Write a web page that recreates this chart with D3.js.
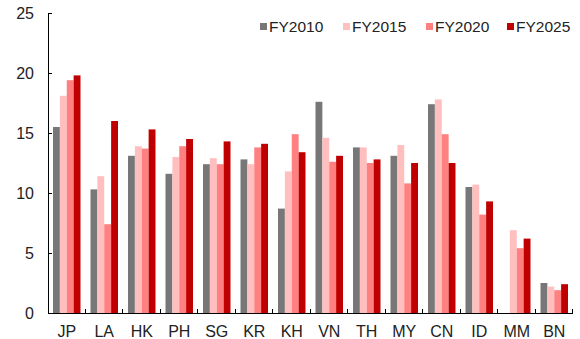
<!DOCTYPE html>
<html>
<head>
<meta charset="utf-8">
<script src="https://cdn.jsdelivr.net/npm/d3@7"></script>
<style>
  html, body { margin: 0; padding: 0; background: #fff; }
  svg { display: block; font-family: "Liberation Sans", Arial, sans-serif; }
</style>
</head>
<body>
<svg id="chart" width="580" height="339"></svg>
<script>
// Markets along the x axis
const categories = ["JP", "LA", "HK", "PH", "SG", "KR", "KH", "VN", "TH", "MY", "CN", "ID", "MM", "BN"];

// Series names (legend order)
const seriesNames = ["FY2010", "FY2015", "FY2020", "FY2025"];

// Values per series, one per market
const fy2010 = [15.5, 10.3, 13.1, 11.6, 12.4, 12.8, 8.7, 17.6, 13.8, 13.1, 17.4, 10.5, 0, 2.5];
const fy2015 = [18.1, 11.4, 13.9, 13.0, 12.9, 12.4, 11.8, 14.6, 13.8, 14.0, 17.8, 10.7, 6.9, 2.2];
const fy2020 = [19.4, 7.4, 13.7, 13.9, 12.4, 13.8, 14.9, 12.6, 12.5, 10.8, 14.9, 8.2, 5.4, 1.9];
const fy2025 = [19.8, 16.0, 15.3, 14.5, 14.3, 14.1, 13.4, 13.1, 12.8, 12.5, 12.5, 9.3, 6.2, 2.4];

// Y axis tick values
const yTicks = [0, 5, 10, 15, 20, 25];

const seriesValues = [fy2010, fy2015, fy2020, fy2025];
const colors = ["#777777", "#FFBFBF", "#FF8080", "#C00000"];

const svg = d3.select("#chart");
const plotLeft = 48, plotRight = 573, plotTop = 13, plotBottom = 313;

const x0 = d3.scaleBand().domain(categories).range([plotLeft, plotRight]).padding(0);
const groupW = x0.bandwidth();
const x1 = d3.scaleBand().domain(seriesNames).range([5, groupW - 5]).padding(0);
const y = d3.scaleLinear().domain([0, 25]).range([plotBottom, plotTop]);
const color = d3.scaleOrdinal().domain(seriesNames).range(colors);

// Bars
const groups = svg.append("g").selectAll("g")
  .data(categories)
  .join("g")
  .attr("transform", d => `translate(${x0(d)},0)`);

groups.selectAll("rect")
  .data((d, i) => seriesNames.map((s, j) => ({ s, v: seriesValues[j][i] })))
  .join("rect")
  .attr("x", d => x1(d.s))
  .attr("width", x1.bandwidth())
  .attr("y", d => y(d.v))
  .attr("height", d => y(0) - y(d.v))
  .attr("fill", d => color(d.s));

// Y axis: line, inward ticks, labels
const yAxis = svg.append("g");
yAxis.append("line")
  .attr("x1", plotLeft + 0.5).attr("x2", plotLeft + 0.5)
  .attr("y1", y(25)).attr("y2", y(0))
  .attr("stroke", "#000").attr("stroke-width", 1);
yAxis.selectAll("line.tick")
  .data(yTicks)
  .join("line")
  .attr("class", "tick")
  .attr("x1", plotLeft).attr("x2", plotLeft + 4)
  .attr("y1", d => Math.round(y(d)) + 0.5).attr("y2", d => Math.round(y(d)) + 0.5)
  .attr("stroke", "#000");
yAxis.selectAll("text")
  .data(yTicks)
  .join("text")
  .attr("x", 34)
  .attr("y", d => y(d))
  .attr("dy", "0.35em")
  .attr("text-anchor", "end")
  .attr("font-size", 16)
  .attr("fill", "#222")
  .text(d => d);

// X axis: baseline, inward ticks between groups, labels
const xAxis = svg.append("g");
xAxis.append("line")
  .attr("x1", plotLeft).attr("x2", plotRight)
  .attr("y1", plotBottom + 0.5).attr("y2", plotBottom + 0.5)
  .attr("stroke", "#000");
const boundaries = categories.map(c => x0(c) + groupW);
xAxis.selectAll("line.tick")
  .data(boundaries)
  .join("line")
  .attr("class", "tick")
  .attr("x1", d => Math.round(d) - 0.5).attr("x2", d => Math.round(d) - 0.5)
  .attr("y1", plotBottom).attr("y2", plotBottom - 4)
  .attr("stroke", "#000");
xAxis.selectAll("text")
  .data(categories)
  .join("text")
  .attr("x", d => x0(d) + groupW / 2)
  .attr("y", 337)
  .attr("text-anchor", "middle")
  .attr("font-size", 16)
  .attr("fill", "#222")
  .text(d => d);

// Legend
const legendX = [260, 343, 426, 507];
const legend = svg.append("g").selectAll("g")
  .data(seriesNames)
  .join("g")
  .attr("transform", (d, i) => `translate(${legendX[i]},27)`);
legend.append("rect")
  .attr("x", 0).attr("y", -4)
  .attr("width", 7).attr("height", 7)
  .attr("fill", d => color(d));
legend.append("text")
  .attr("x", 9)
  .attr("y", 0)
  .attr("dy", "0.35em")
  .attr("font-size", 15.5)
  .attr("fill", "#222")
  .text(d => d);
</script>
</body>
</html>
